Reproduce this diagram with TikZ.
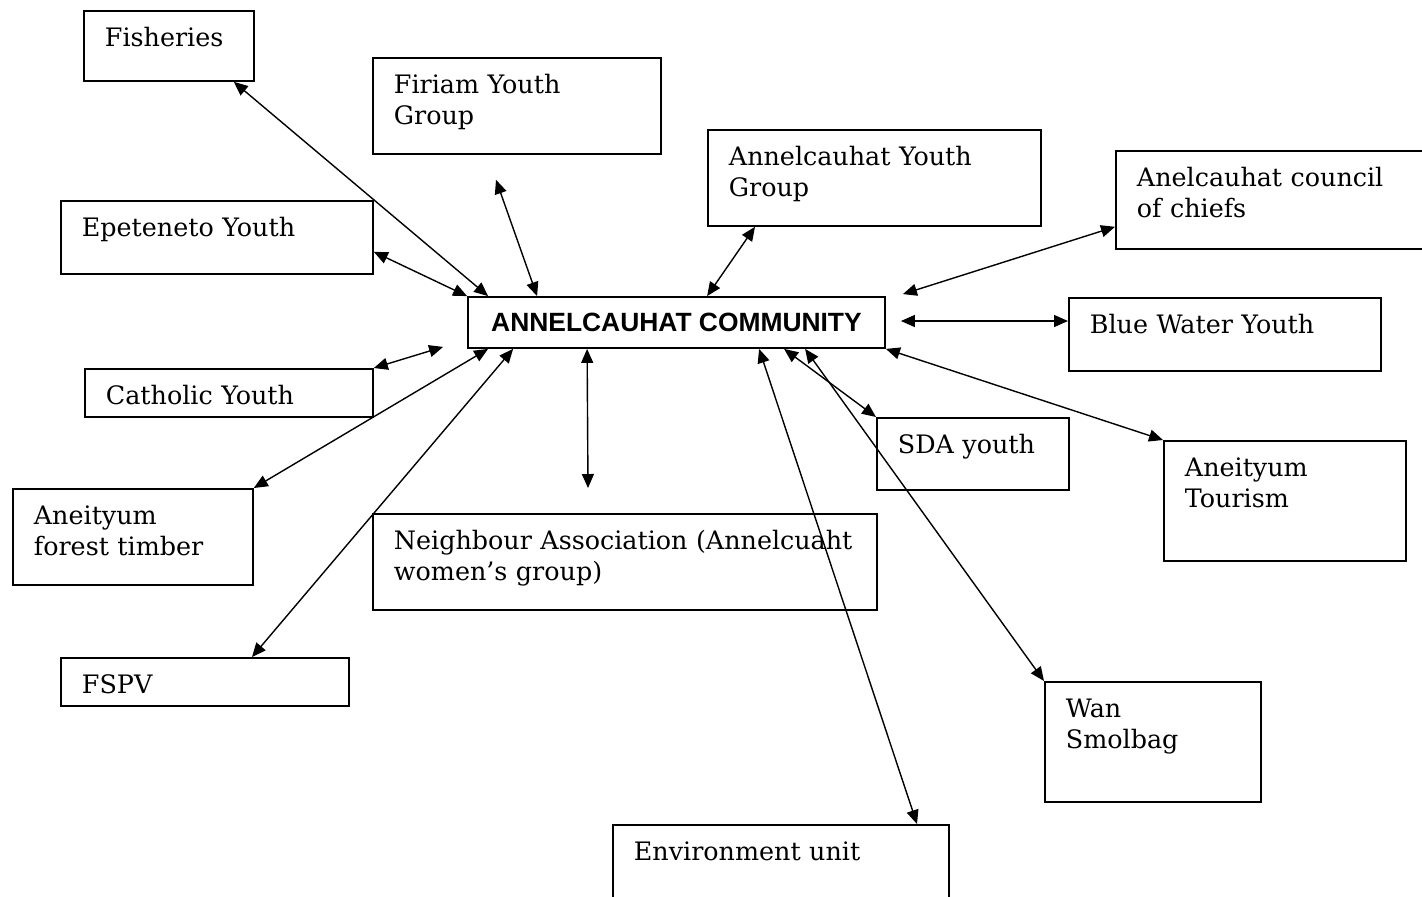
\documentclass[tikz,border=0pt]{standalone}
\usepackage{fontspec}
\setmainfont{DejaVu Serif}
\newfontfamily\commfont{Liberation Sans}
\usetikzlibrary{arrows.meta,calc}

\tikzset{every picture/.style={line width=0.75pt}}
\tikzset{
	orgbox/.style 2 args={draw, line width=0.9pt, anchor=north west, align=left, inner xsep=10.5pt, inner ysep=0pt,
		text height=18pt, text width=#1, text depth=#2, font=\fontsize{12.7}{15.5}\selectfont},
	commbox/.style={draw, line width=0.9pt, minimum width=208.5pt, minimum height=25.5pt, inner sep=0pt,
		font=\commfont\bfseries\fontsize{13.2}{15}\selectfont},
	biarrow/.style={line width=0.7pt, {Triangle[length=7pt,width=6pt]}-{Triangle[length=7pt,width=6pt]}}}

\begin{document}
\begin{tikzpicture}[x=0.5pt,y=0.5pt,yscale=-1,xscale=1]
	\useasboundingbox (0,0) rectangle (1422,896);

	%Shape: Rectangle [centre]
	\node [commbox] (comm) at (676.5,322.5) {ANNELCAUHAT COMMUNITY};

	%Shape: Rectangle [top row]
	\node [orgbox={64pt}{17pt}] (fish) at (83,10) {Fisheries};
	\node [orgbox={123pt}{30pt}] (firiam) at (372,57) {Firiam Youth\\Group};
	\node [orgbox={145.5pt}{30pt}] (ayouth) at (707,129) {Annelcauhat Youth\\Group};
	\node [orgbox={139pt}{31pt}] (chiefs) at (1115,150) {Anelcauhat council\\of chiefs};
	%Shape: Rectangle [left side]
	\node [orgbox={135pt}{18.5pt}] (epet) at (60,200) {Epeteneto Youth};
	\node [orgbox={123pt}{6pt}] (cath) at (84,368) {Catholic Youth};
	\node [orgbox={99pt}{30pt}] (timber) at (12,488) {Aneityum\\forest timber};
	\node [orgbox={123pt}{6pt}] (fspv) at (60,657) {FSPV};
	%Shape: Rectangle [right side]
	\node [orgbox={135pt}{18.5pt}] (bluew) at (1068,297) {Blue Water Youth};
	\node [orgbox={75pt}{18pt}] (sda) at (876,417) {SDA youth};
	\node [orgbox={100pt}{42pt}] (tour) at (1163,440) {Aneityum\\Tourism};
	\node [orgbox={87pt}{42pt}] (wan) at (1044,681) {Wan\\Smolbag};
	%Shape: Rectangle [bottom]
	\node [orgbox={231pt}{30pt}] (neigh) at (372,513) {Neighbour Association (Annelcuaht\\women’s group)};
	\node [orgbox={147pt}{32pt}] (env) at (612,824) {Environment unit};

	% free arrow ends
	\coordinate (firiam-end) at ($(firiam.south west)+(124,25)$);
	\coordinate (chiefs-end) at ($(comm.north east)+(17,-2)$);
	\coordinate (bluew-end) at ($(comm.east)+(15,-1.5)$);
	\coordinate (cath-end) at ($(comm.south west)+(-24,-2)$);
	\coordinate (neigh-end) at ($(neigh.north west)+(216,-25)$);

	%Straight Lines [above]
	\draw [biarrow] ($(fish.south east)+(-21,0)$) -- ($(comm.north west)+(21,0)$);
	\draw [biarrow] (firiam-end) -- ($(comm.north west)+(70,0)$);
	\draw [biarrow] ($(ayouth.south west)+(48,0)$) -- ($(comm.north west)+(240,0)$);
	\draw [biarrow] ($(chiefs.south west)+(0,-23)$) -- (chiefs-end);
	\draw [biarrow] ($(epet.south east)+(0,-23)$) -- (comm.north west);
	\draw [biarrow] (bluew-end) -- ($(bluew.north west)+(0,24)$);
	%Straight Lines [below]
	\draw [biarrow] (cath.north east) -- (cath-end);
	\draw [biarrow] (timber.north east) -- ($(comm.south west)+(21,0)$);
	\draw [biarrow] ($(fspv.north west)+(192,0)$) -- ($(comm.south west)+(46,0)$);
	\draw [biarrow] ($(comm.south west)+(120,0)$) -- (neigh-end);
	\draw [biarrow] ($(comm.south west)+(292,0)$) -- ($(env.north west)+(305,0)$);
	\draw [biarrow] ($(comm.south west)+(317,0)$) -- (sda.north west);
	\draw [biarrow] ($(comm.south west)+(338,0)$) -- (wan.north west);
	\draw [biarrow] (comm.south east) -- (tour.north west);

\end{tikzpicture}
\end{document}
